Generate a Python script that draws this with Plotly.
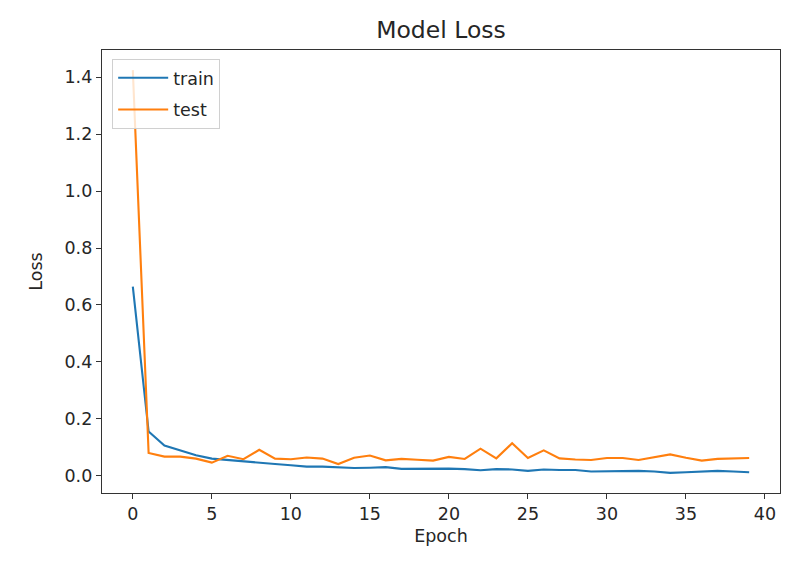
import plotly.graph_objects as go

epochs = list(range(40))
train_loss = [0.664, 0.155, 0.106, 0.088, 0.072, 0.060, 0.055, 0.049, 0.045, 0.041,
              0.037, 0.032, 0.032, 0.029, 0.027, 0.028, 0.030, 0.024, 0.024, 0.026,
              0.025, 0.023, 0.019, 0.023, 0.022, 0.017, 0.022, 0.020, 0.020, 0.015,
              0.016, 0.016, 0.017, 0.015, 0.010, 0.012, 0.014, 0.017, 0.015, 0.012]
test_loss = [1.425, 0.080, 0.067, 0.067, 0.060, 0.046, 0.070, 0.058, 0.091, 0.060,
             0.058, 0.064, 0.060, 0.041, 0.063, 0.071, 0.054, 0.059, 0.056, 0.053,
             0.066, 0.059, 0.095, 0.061, 0.114, 0.062, 0.089, 0.061, 0.057, 0.055,
             0.062, 0.062, 0.055, 0.066, 0.075, 0.063, 0.053, 0.059, 0.061, 0.062]
x_ticks = [0, 5, 10, 15, 20, 25, 30, 35, 40]
y_ticks = [0.0, 0.2, 0.4, 0.6, 0.8, 1.0, 1.2, 1.4]

FONT = "DejaVu Sans"
AX = "#333333"
TXT = "#262626"

fig = go.Figure()
fig.add_trace(go.Scatter(x=epochs, y=train_loss, mode="lines", name="train",
                         legendgroup="train",
                         line=dict(color="#1f77b4", width=2.1)))
fig.add_trace(go.Scatter(x=epochs, y=test_loss, mode="lines", name="test",
                         legendgroup="test",
                         line=dict(color="#ff7f0e", width=2.1)))

ymin = min(train_loss + test_loss)
ymax = max(train_loss + test_loss)
ypad = (ymax - ymin) * 0.05
xpad = (epochs[-1] - epochs[0]) * 0.05

axis_common = dict(showgrid=False, zeroline=False, showline=True, mirror=True,
                   linecolor=AX, linewidth=1.4, ticks="outside", ticklen=5,
                   tickwidth=1.3, tickcolor=AX,
                   tickfont=dict(family=FONT, size=17.5, color=TXT))

W, H = 804, 558  # page body has an 8px default margin

fig.update_layout(
    width=W, height=H,
    paper_bgcolor="white", plot_bgcolor="white",
    margin=dict(l=94, r=32, t=42, b=73),
    font=dict(family=FONT, color=TXT),
    title=dict(text="Model Loss", x=0.5, xref="paper",
               xanchor="center", y=1 - 22 / H, yanchor="middle",
               font=dict(family=FONT, size=23.5, color=TXT)),
    xaxis=dict(range=[epochs[0] - xpad, epochs[-1] + xpad], tickvals=x_ticks,
               ticktext=[str(v) for v in x_ticks],
               title=dict(text="Epoch", font=dict(family=FONT, size=17.5, color=TXT),
                          standoff=6),
               **axis_common),
    yaxis=dict(range=[ymin - ypad, ymax + ypad], tickvals=y_ticks,
               ticktext=[f"{v:.1f}" for v in y_ticks],
               title=dict(text="Loss", font=dict(family=FONT, size=17.5, color=TXT),
                          standoff=17),
               **axis_common),
    legend=dict(x=0.015, y=0.98, xanchor="left", yanchor="top",
                bgcolor="rgba(255,255,255,0.8)", bordercolor="#d0d0d0", borderwidth=1,
                font=dict(family=FONT, size=17.5, color=TXT),
                itemwidth=50, entrywidth=124, tracegroupgap=6),
    showlegend=True,
)

fig.write_html("out.html")
